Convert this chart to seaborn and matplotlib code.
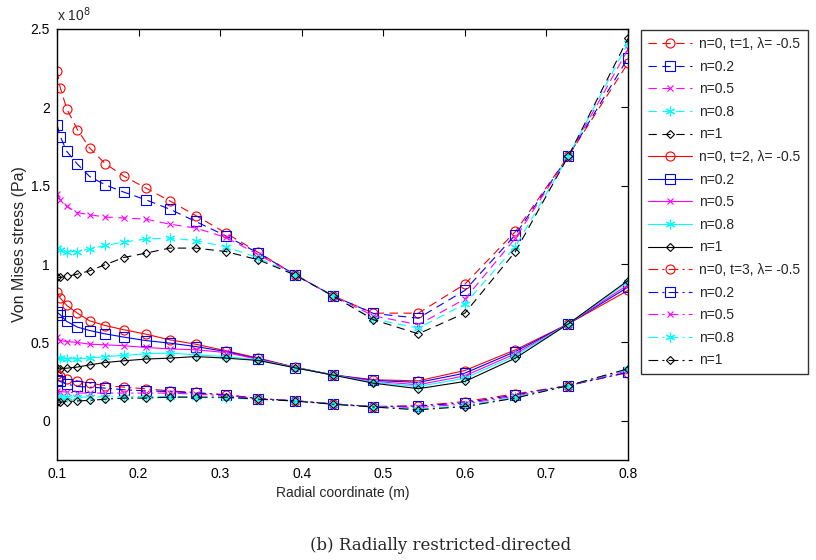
import matplotlib
matplotlib.use("Agg")
import matplotlib.pyplot as plt
import seaborn as sns
import numpy as np
import pandas as pd
from matplotlib.ticker import FuncFormatter, FixedLocator

# ---------------- data (stress in units of 1e8 Pa) ----------------
radial = [0.1, 0.104, 0.112, 0.125, 0.14, 0.159, 0.182, 0.209, 0.238, 0.27,
          0.307, 0.347, 0.392, 0.438, 0.488, 0.543, 0.6, 0.662, 0.727, 0.8]

t1_n0  = [2.234, 2.125, 1.99, 1.858, 1.741, 1.641, 1.561, 1.485, 1.404, 1.31, 1.198, 1.074, 0.932, 0.798, 0.687, 0.687, 0.872, 1.208, 1.69, 2.283]
t1_n02 = [1.889, 1.814, 1.719, 1.638, 1.559, 1.506, 1.459, 1.41, 1.351, 1.272, 1.18, 1.07, 0.932, 0.798, 0.685, 0.655, 0.832, 1.187, 1.69, 2.315]
t1_n05 = [1.447, 1.41, 1.368, 1.329, 1.315, 1.30, 1.294, 1.287, 1.255, 1.23, 1.17, 1.06, 0.93, 0.798, 0.67, 0.613, 0.777, 1.166, 1.69, 2.37]
t1_n08 = [1.102, 1.091, 1.08, 1.08, 1.098, 1.119, 1.14, 1.16, 1.166, 1.15, 1.11, 1.04, 0.93, 0.798, 0.65, 0.592, 0.745, 1.112, 1.69, 2.41]
t1_n1  = [0.915, 0.915, 0.921, 0.936, 0.957, 0.996, 1.042, 1.07, 1.102, 1.102, 1.08, 1.027, 0.93, 0.798, 0.645, 0.555, 0.687, 1.08, 1.69, 2.44]

t2_n0  = [0.821, 0.783, 0.736, 0.687, 0.638, 0.608, 0.581, 0.553, 0.517, 0.489, 0.447, 0.40, 0.342, 0.293, 0.262, 0.255, 0.321, 0.453, 0.619, 0.832]
t2_n02 = [0.694, 0.676, 0.634, 0.598, 0.576, 0.555, 0.534, 0.512, 0.496, 0.474, 0.442, 0.395, 0.34, 0.293, 0.258, 0.245, 0.304, 0.442, 0.619, 0.853]
t2_n05 = [0.532, 0.512, 0.506, 0.50, 0.489, 0.485, 0.479, 0.468, 0.459, 0.453, 0.436, 0.392, 0.34, 0.293, 0.252, 0.23, 0.287, 0.428, 0.619, 0.868]
t2_n08 = [0.40, 0.40, 0.396, 0.396, 0.40, 0.41, 0.417, 0.428, 0.432, 0.421, 0.41, 0.388, 0.34, 0.293, 0.245, 0.219, 0.272, 0.415, 0.619, 0.885]
t2_n1  = [0.336, 0.33, 0.336, 0.343, 0.357, 0.372, 0.383, 0.394, 0.40, 0.41, 0.40, 0.385, 0.338, 0.292, 0.24, 0.205, 0.251, 0.40, 0.619, 0.895]

t3_n0  = [0.30, 0.283, 0.268, 0.255, 0.24, 0.225, 0.215, 0.204, 0.191, 0.181, 0.166, 0.142, 0.128, 0.108, 0.091, 0.096, 0.123, 0.172, 0.225, 0.308]
t3_n02 = [0.262, 0.251, 0.234, 0.219, 0.215, 0.209, 0.198, 0.191, 0.187, 0.177, 0.166, 0.142, 0.128, 0.108, 0.091, 0.094, 0.115, 0.165, 0.225, 0.31]
t3_n05 = [0.191, 0.187, 0.183, 0.177, 0.177, 0.177, 0.177, 0.177, 0.177, 0.17, 0.16, 0.14, 0.128, 0.108, 0.09, 0.085, 0.108, 0.158, 0.225, 0.32]
t3_n08 = [0.151, 0.151, 0.151, 0.151, 0.151, 0.153, 0.155, 0.155, 0.155, 0.15, 0.145, 0.138, 0.127, 0.107, 0.089, 0.075, 0.098, 0.15, 0.225, 0.328]
t3_n1  = [0.119, 0.119, 0.123, 0.127, 0.13, 0.138, 0.145, 0.145, 0.151, 0.151, 0.151, 0.138, 0.126, 0.106, 0.088, 0.07, 0.091, 0.145, 0.225, 0.332]

legend_labels = ["n=0, t=1, \u03bb= -0.5", "n=0.2", "n=0.5", "n=0.8", "n=1",
                 "n=0, t=2, \u03bb= -0.5", "n=0.2", "n=0.5", "n=0.8", "n=1",
                 "n=0, t=3, \u03bb= -0.5", "n=0.2", "n=0.5", "n=0.8", "n=1"]
x_ticks = [0.1, 0.2, 0.3, 0.4, 0.5, 0.6, 0.7, 0.8]
y_ticks = [0, 0.5, 1, 1.5, 2, 2.5]
SCALE = 1e8

series = [t1_n0, t1_n02, t1_n05, t1_n08, t1_n1,
          t2_n0, t2_n02, t2_n05, t2_n08, t2_n1,
          t3_n0, t3_n02, t3_n05, t3_n08, t3_n1]

# ---------------- styling ----------------
sns.set_style("white")
plt.rcParams['font.family'] = ['Liberation Sans', 'DejaVu Sans']
plt.rcParams['lines.scale_dashes'] = False

colors = ['#ff0000', '#0000ff', '#ff00ff', '#00ffff', '#000000']
markers = ['o', 's', 'x', (6, 2, 0), 'D']
msizes = [6.5, 6.5, 5, 7, 4.5]
dash_styles = [(0, (6, 4)), '-', (0, (7, 3, 1.5, 3))]

fig = plt.figure(figsize=(8.16, 5.6), dpi=100)
ax = fig.add_axes([57/816, 1-460/560, (628-57)/816, (460-29)/560])

for i, vals in enumerate(series):
    g, k = divmod(i, 5)
    df = pd.DataFrame({"r": radial, "s": np.array(vals) * SCALE})
    sns.lineplot(data=df, x="r", y="s", ax=ax, color=colors[k],
                 linestyle=dash_styles[g], linewidth=0.8,
                 marker=markers[k], markersize=msizes[k],
                 markerfacecolor='none', markeredgecolor=colors[k],
                 markeredgewidth=0.8, label=legend_labels[i], legend=False)

ax.set_xlim(0.1, 0.8)
ax.set_ylim(-0.25 * SCALE, 2.5 * SCALE)
ax.xaxis.set_major_locator(FixedLocator(x_ticks))
ax.yaxis.set_major_locator(FixedLocator([v * SCALE for v in y_ticks]))
ax.xaxis.set_major_formatter(FuncFormatter(lambda v, p: f"{v:g}"))
ax.yaxis.set_major_formatter(FuncFormatter(lambda v, p: f"{v/SCALE:g}"))
ax.tick_params(direction='in', length=5, width=0.8, top=True, right=True,
               labelsize=10, pad=5, colors='black')
for sp in ax.spines.values():
    sp.set_visible(True)
    sp.set_color('black')
    sp.set_linewidth(1.0)

ax.set_xlabel("Radial coordinate (m)", fontsize=10, labelpad=4)
ax.set_ylabel("Von Mises stress (Pa)", fontsize=11.5, labelpad=3)
ax.text(0.0, 1.012, "x 10$^{8}$", transform=ax.transAxes, fontsize=10,
        ha='left', va='bottom')

handles, labels = ax.get_legend_handles_labels()
leg = fig.legend(handles, labels, loc='upper left',
                 bbox_to_anchor=(641/816, 1-30/560), frameon=True,
                 fancybox=False, edgecolor='black', fontsize=10,
                 handlelength=3.2, labelspacing=0.62, borderpad=0.5,
                 handletextpad=0.5, borderaxespad=0)
leg.get_frame().set_linewidth(1.0)

fig.text(441/816, 1-545/560, "(b) Radially restricted-directed",
         fontsize=12, family=['DejaVu Serif'], ha='center', va='center')

fig.savefig("out.png", dpi=100)
